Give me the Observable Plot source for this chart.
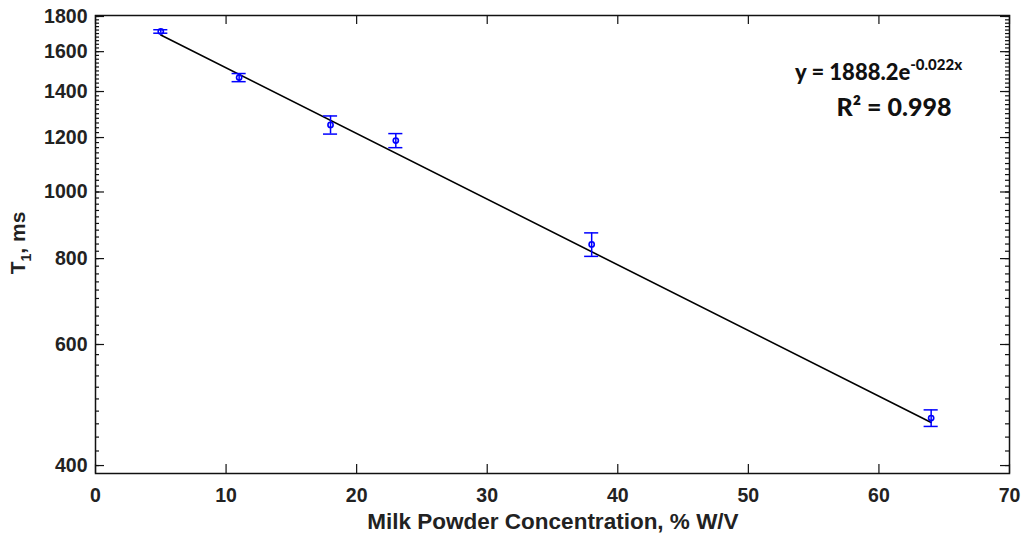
<!DOCTYPE html>
<html>
<head>
<meta charset="utf-8">
<script src="https://cdn.jsdelivr.net/npm/d3@7"></script>
<script src="https://cdn.jsdelivr.net/npm/@observablehq/plot@0.6"></script>
<style>
  html, body { margin: 0; padding: 0; background: #fff; }
  #chart svg { display: block; }
</style>
</head>
<body>
<div id="chart"></div>
<script>
// ---- data ----
const concentration = [5, 11, 18, 23, 38, 64];          // % W/V
const t1 = [1712, 1467, 1252, 1188, 839, 469];           // ms
const t1Err = [10, 20, 38, 28, 33, 13];                  // ms
const fitX = [5, 64];
const fitY = [1692, 462];
const xTicks = [0, 10, 20, 30, 40, 50, 60, 70];
const yTicks = [400, 600, 800, 1000, 1200, 1400, 1600, 1800];
const yMinorTicks = d3.range(400, 1801, 20);
const xLabel = "Milk Powder Concentration, % W/V";

const points = concentration.map((c, i) => ({x: c, y: t1[i], lo: t1[i] - t1Err[i], hi: t1[i] + t1Err[i]}));
const fit = fitX.map((x, i) => ({x, y: fitY[i]}));

const W = 1024, H = 536;
const mL = 95, mR = 15, mT = 15, mB = 63;
const fw = W - mL - mR, fh = H - mT - mB;
const blue = "#0000ff";
const capHalf = 0.54;
const axisFont = "'Liberation Sans', Arial, sans-serif";

const chart = Plot.plot({
  width: W, height: H,
  marginLeft: mL, marginRight: mR, marginTop: mT, marginBottom: mB,
  style: {fontFamily: axisFont, background: "#fff"},
  x: {domain: [0, 70]},
  y: {type: "log", domain: [389.5, 1806]},
  marks: [
    Plot.axisX({ticks: xTicks, tickSize: 0, tickPadding: 15, fontSize: 19.5, fontWeight: "bold", fill: "#222", label: null}),
    Plot.axisY({ticks: yTicks, tickSize: 0, tickPadding: 8, tickFormat: d => String(d), fontSize: 19.5, fontWeight: "bold", fill: "#222", label: null}),
    // inward ticks
    Plot.ruleX(xTicks, {x: d => d, insetTop: fh - 9, stroke: "#111", strokeWidth: 1.2}),
    Plot.ruleX(xTicks, {x: d => d, insetBottom: fh - 9, stroke: "#111", strokeWidth: 1.2}),
    Plot.ruleY(yMinorTicks, {y: d => d, insetRight: fw - 4, stroke: "#111", strokeWidth: 1.2}),
    Plot.ruleY(yMinorTicks, {y: d => d, insetLeft: fw - 4, stroke: "#111", strokeWidth: 1.2}),
    Plot.ruleY(yTicks, {y: d => d, insetRight: fw - 9, stroke: "#111", strokeWidth: 1.2}),
    Plot.ruleY(yTicks, {y: d => d, insetLeft: fw - 9, stroke: "#111", strokeWidth: 1.2}),
    Plot.frame({stroke: "#111", strokeWidth: 1.5}),
    // fit line
    Plot.line(fit, {x: "x", y: "y", stroke: "#000", strokeWidth: 1.6}),
    // error bars
    Plot.ruleX(points, {x: "x", y1: "lo", y2: "hi", stroke: blue, strokeWidth: 1.5}),
    Plot.ruleY(points, {y: "hi", x1: d => d.x - capHalf, x2: d => d.x + capHalf, stroke: blue, strokeWidth: 1.5}),
    Plot.ruleY(points, {y: "lo", x1: d => d.x - capHalf, x2: d => d.x + capHalf, stroke: blue, strokeWidth: 1.5}),
    Plot.dot(points, {x: "x", y: "y", r: 2.6, stroke: blue, strokeWidth: 1.6, fill: "none"})
  ]
});

const svg = d3.select(chart);
svg.selectAll('g[aria-label="x-axis tick label"] text, g[aria-label="y-axis tick label"] text')
  .style("font-size", "19.5px").style("font-weight", "bold");

// x-axis label
svg.append("text")
  .attr("x", 553).attr("y", 529)
  .attr("text-anchor", "middle")
  .style("font-family", axisFont)
  .style("font-weight", "bold").style("font-size", "22.5px").attr("fill", "#222")
  .text(xLabel);

// y-axis label with subscript
const yl = svg.append("text")
  .attr("transform", `translate(25, 243) rotate(-90)`)
  .attr("text-anchor", "middle")
  .style("font-family", axisFont)
  .style("font-weight", "bold").style("font-size", "21px").attr("fill", "#222");
yl.append("tspan").text("T");
yl.append("tspan").attr("dy", 6).style("font-size", "14px").text("1");
yl.append("tspan").attr("dy", -6).text(", ms");

// equation annotation
const eq = svg.append("text")
  .attr("x", 795).attr("y", 80)
  .attr("text-anchor", "start")
  .style("font-family", "Lato, 'Open Sans', sans-serif")
  .style("font-weight", "900").style("font-size", "22px").attr("fill", "#111");
eq.append("tspan").text("y = 1888.2e");
eq.append("tspan").attr("dy", -10).style("font-size", "15px").text("-0.022x");

svg.append("text")
  .attr("x", 894).attr("y", 116)
  .attr("text-anchor", "middle")
  .style("font-family", "Lato, 'Open Sans', sans-serif")
  .style("font-weight", "900").style("font-size", "25px").attr("fill", "#111")
  .text("R² = 0.998");

document.getElementById("chart").appendChild(chart);
</script>
</body>
</html>
